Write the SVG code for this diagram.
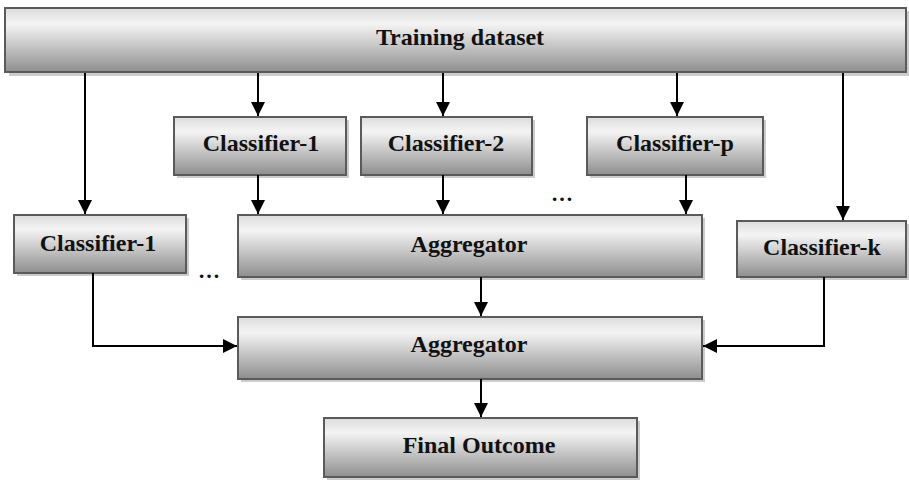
<svg xmlns="http://www.w3.org/2000/svg" width="909" height="480" viewBox="0 0 909 480">
<defs>
<linearGradient id="g" x1="0" y1="0" x2="0" y2="1">
<stop offset="0" stop-color="#dcdcdc"/>
<stop offset="0.25" stop-color="#f4f4f4"/>
<stop offset="1" stop-color="#8e8e8e"/>
</linearGradient>
<marker id="a" viewBox="0 0 14 14" refX="14" refY="7" markerWidth="14" markerHeight="14" markerUnits="userSpaceOnUse" orient="auto">
<path d="M0,0 L14,7 L0,14 z" fill="#000"/>
</marker>
</defs>
<style>
.box{fill:url(#g);stroke:#5a5a5a;stroke-width:2}
.sh{fill:#cccccc}
.t{font-family:"Liberation Serif","Times New Roman",serif;font-weight:bold;font-size:24px;fill:#111;text-anchor:middle;dominant-baseline:central}
.c{fill:none;stroke:#000;stroke-width:2;marker-end:url(#a)}
.d{font-family:"Liberation Serif",serif;font-weight:bold;font-size:22px;fill:#111}
</style>
<rect width="909" height="480" fill="#fff"/>
<g id="training">
<rect class="sh" x="9" y="11" width="900" height="65"/>
<rect class="box" x="5" y="8" width="901" height="64"/>
<text class="t" x="460" y="37">Training dataset</text>
</g>
<g id="clf1-top">
<rect class="sh" x="177" y="120" width="172" height="58"/>
<rect class="box" x="174" y="117" width="172" height="58"/>
<text class="t" x="261" y="143">Classifier-1</text>
</g>
<g id="clf2">
<rect class="sh" x="364" y="120" width="171" height="58"/>
<rect class="box" x="361" y="117" width="171" height="58"/>
<text class="t" x="446" y="143">Classifier-2</text>
</g>
<g id="clfp">
<rect class="sh" x="590" y="120" width="176" height="58"/>
<rect class="box" x="587" y="117" width="176" height="58"/>
<text class="t" x="675" y="143">Classifier-p</text>
</g>
<g id="clf1-left">
<rect class="sh" x="17" y="218" width="172" height="58"/>
<rect class="box" x="14" y="215" width="172" height="58"/>
<text class="t" x="98" y="243">Classifier-1</text>
</g>
<g id="agg1">
<rect class="sh" x="241" y="218" width="464" height="62"/>
<rect class="box" x="238" y="215" width="464" height="62"/>
<text class="t" x="469" y="244">Aggregator</text>
</g>
<g id="clfk">
<rect class="sh" x="740" y="224" width="169" height="56"/>
<rect class="box" x="737" y="221" width="169" height="56"/>
<text class="t" x="822" y="247">Classifier-k</text>
</g>
<g id="agg2">
<rect class="sh" x="241" y="320" width="464" height="62"/>
<rect class="box" x="238" y="317" width="464" height="62"/>
<text class="t" x="469" y="344">Aggregator</text>
</g>
<g id="final">
<rect class="sh" x="327" y="421" width="313" height="59"/>
<rect class="box" x="324" y="418" width="313" height="59"/>
<text class="t" x="479" y="445">Final Outcome</text>
</g>
<g id="dots">
<text class="d" x="198" y="278">…</text>
<text class="d" x="551" y="201">…</text>
</g>
<g id="connectors">
<path class="c" d="M85,73 V214"/>
<path class="c" d="M258,73 V116"/>
<path class="c" d="M443,73 V116"/>
<path class="c" d="M677,73 V116"/>
<path class="c" d="M843,73 V220"/>
<path class="c" d="M258,175 V214"/>
<path class="c" d="M443,175 V214"/>
<path class="c" d="M686,175 V214"/>
<path class="c" d="M481,277 V316"/>
<path class="c" d="M481,379 V417"/>
<path class="c" d="M93,273 V346 H237"/>
<path class="c" d="M824,277 V346 H703"/>
</g>
</svg>
